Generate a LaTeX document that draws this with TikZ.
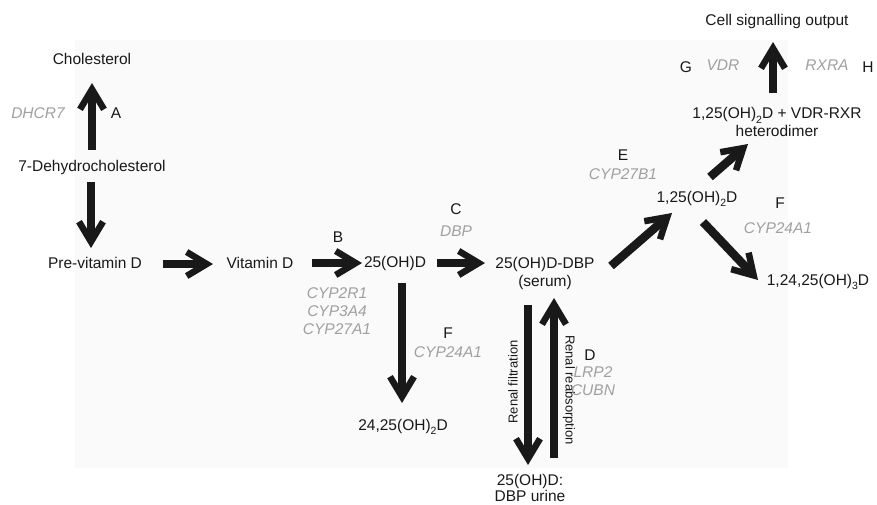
\documentclass[tikz,border=0pt]{standalone}
\usepackage{fontspec}
\setmainfont{Liberation Sans}
\usetikzlibrary{arrows.meta,calc}
\definecolor{bgc}{RGB}{250,250,250}
\definecolor{lbl}{RGB}{160,160,160}
\definecolor{ink}{RGB}{25,25,25}
\newcommand{\lowsub}[1]{\raisebox{-4.5pt}{\fontsize{10.5}{10.5}\selectfont #1}}
\begin{document}
\begin{tikzpicture}[x=1pt,y=-1pt,
 txt/.style={inner sep=0pt, text=ink, font=\fontsize{15.5}{18}\selectfont, align=center},
 gene/.style={txt, text=lbl, font=\fontsize{15.5}{18}\selectfont\itshape},
 rot/.style={inner sep=0pt, text=ink, font=\fontsize{13}{15}\selectfont},
 flow/.style={draw=ink, line width=8.5pt, -{Straight Barb[length=20pt,width=24pt,line width=6.5pt 0]}},
]
\useasboundingbox (0,0) rectangle (877,504);
\fill[bgc] (75,40) rectangle (788,468);

% main nodes
\node[txt] (chol) at (92,59) {Cholesterol};
\node[txt] (dhc) at (92,167) {7-Dehydrocholesterol};
\node[txt] (prev) at (95,263) {Pre-vitamin D};
\node[txt] (vitd) at (260,263) {Vitamin D};
\node[txt] (ohd) at (395,263) {25(OH)D};
\node[txt] (dbp) at (545,273) {25(OH)D-DBP\\(serum)};
\node[txt] (ohd2425) at (403,427) {24,25(OH)\lowsub{2}D};
\node[txt, font=\fontsize{15.5}{16}\selectfont] (urine) at (530,488) {25(OH)D:\\DBP urine};
\node[txt] (ohd125) at (697,199) {1,25(OH)\lowsub{2}D};
\node[txt] (het) at (777,122) {1,25(OH)\lowsub{2}D + VDR-RXR\\heterodimer};
\node[txt] (cell) at (777,21) {Cell signalling output};
\node[txt] (ohd12425) at (818,282) {1,24,25(OH)\lowsub{3}D};

% labels
\node[gene] (gdhcr) at (38,113) {DHCR7};
\node[txt] (lA) at (116,113) {A};
\node[txt] (lB) at (338,237) {B};
\node[gene] (gcyp) at (337,311) {CYP2R1\\CYP3A4\\CYP27A1};
\node[txt] (lC) at (456,209) {C};
\node[gene] (gdbp) at (456,231) {DBP};
\node[txt] (lF1) at (448,333) {F};
\node[gene] (gf1) at (448,352) {CYP24A1};
\node[rot, rotate=90] (rf) at (513,382) {Renal filtration};
\node[rot, rotate=-90] (rr) at (569,390) {Renal reabsorption};
\node[txt] (lD) at (590,355) {D};
\node[gene] (gd) at (593,381) {LRP2\\CUBN};
\node[txt] (lE) at (623,155) {E};
\node[gene] (ge) at (623,174) {CYP27B1};
\node[txt] (lF2) at (780,203) {F};
\node[gene] (gf2) at (778,228) {CYP24A1};
\node[txt] (lG) at (686,67) {G};
\node[gene] (gvdr) at (723,65) {VDR};
\node[gene] (grxra) at (827,65) {RXRA};
\node[txt] (lH) at (868,67) {H};

% arrows
\draw[flow] ($(dhc)+(0,-17)$) -- ($(chol)+(0,24)$);
\draw[flow] ($(dhc)+(-1,15)$) -- ($(prev)+(-4,-15)$);
\draw[flow] ($(prev)+(68,1)$) -- ($(vitd)+(-47,1)$);
\draw[flow] ($(vitd)+(52,0)$) -- ($(ohd)+(-33,0)$);
\draw[flow] ($(ohd)+(42,0)$) -- ($(dbp)+(-60,-10)$);
\draw[flow] ($(ohd)+(7,20)$) -- ($(ohd2425)+(-1,-24)$);
\draw[flow] ($(dbp)+(-17,32)$) -- ($(urine)+(-2,-23)$);
\draw[flow] ($(urine)+(24,-30)$) -- ($(dbp)+(9,25)$);
\draw[flow] ($(dbp)+(66,-7)$) -- ($(ohd125)+(-25,14)$);
\draw[flow] ($(ohd125)+(13,-22)$) -- ($(het)+(-29,22)$);
\draw[flow] ($(het)+(-4,-29)$) -- ($(cell)+(-4,21)$);
\draw[flow] ($(ohd125)+(6,23)$) -- ($(ohd12425)+(-60,-2)$);
\end{tikzpicture}
\end{document}
